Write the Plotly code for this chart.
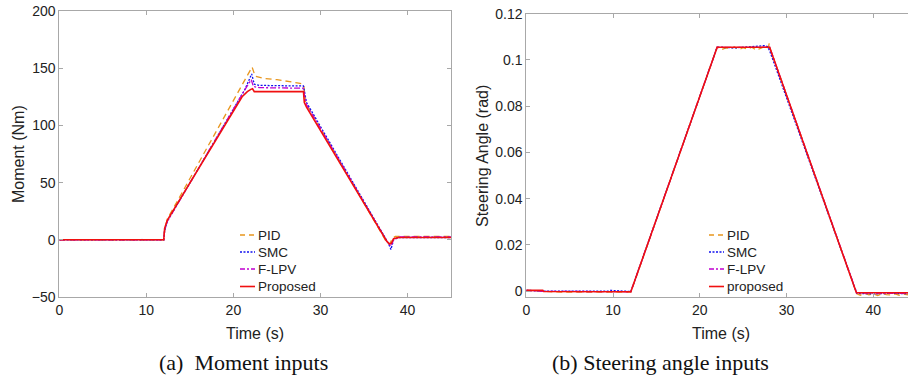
import plotly.graph_objects as go

# ---------------- data: (a) Moment inputs ----------------
t_pid = [0, 9.5, 12.0, 12.1, 12.4, 22.0, 22.15, 22.5, 23.5, 25.0, 26.5, 27.5, 28.0, 28.1, 28.3, 37.6, 37.95, 38.25, 38.6, 40.0, 45.0]
m_pid = [0, 0, 0, 8, 18, 149, 151, 143, 141, 140, 138.5, 137, 136, 134, 120, -2, -4, 1, 3, 3, 3]

t_smc = [0, 9.4, 9.5, 9.6, 12.0, 12.1, 12.4, 21.3, 22.1, 22.4, 23.0, 25.0, 27.0, 28.05, 28.15, 28.4, 37.8, 38.1, 38.4, 39.0, 45.0]
m_smc = [0, 0, 1, 0, 0, 8, 16, 131, 145, 136, 135, 134.5, 134.5, 134.5, 130, 120, -3, -8.5, 0, 2, 2]

t_flpv = [0, 12.0, 12.1, 12.4, 21.3, 22.05, 22.3, 23.0, 28.0, 28.1, 28.4, 37.7, 38.1, 38.4, 39.0, 45.0]
m_flpv = [0, 0, 8, 16, 131, 140, 134, 133, 132.5, 128, 118, -2, -5.5, 0, 2.5, 2.5]

t_prop = [0, 12.0, 12.1, 12.4, 21.0, 21.6, 22.0, 22.2, 22.4, 28.05, 28.15, 28.4, 37.6, 37.9, 38.15, 38.4, 39.0, 45.0]
m_prop = [0, 0, 10, 17, 125, 129.5, 131.5, 132, 129.5, 129.5, 120, 116, -1, -3.5, -3, 1, 2, 2]

# ---------------- data: (b) Steering angle inputs ----------------
ts_pid = [0, 2, 4, 6, 8, 10, 12.05, 22.0, 22.5, 23.0, 23.5, 24.0, 24.5, 25.0, 25.5, 26.0, 26.5, 27.0, 27.5, 27.9, 28.0, 28.05,
          38.1, 38.5, 39.0, 39.5, 40.0, 40.5, 41.0, 41.5, 42.0, 42.5, 43.0, 43.5, 44.0]
s_pid = [0.0003, -0.0002, -0.0005, -0.0004, -0.0005, -0.0003, -0.0005, 0.1055, 0.1045, 0.1052, 0.1048, 0.1056, 0.1044, 0.1053,
         0.1047, 0.1055, 0.1042, 0.1050, 0.1058, 0.1052, 0.1072, 0.1055,
         -0.0012, -0.0018, -0.0010, -0.0016, -0.0012, -0.0019, -0.0011, -0.0015, -0.0017, -0.0012, -0.0018, -0.0013, -0.0016]

ts_smc = [0, 2, 9.5, 9.7, 12.05, 22.0, 24.0, 26.0, 27.0, 27.5, 27.8, 28.05, 38.1, 40.0, 42.0, 44.0]
s_smc = [0.0003, 0.0, 0.0, 0.0003, -0.0002, 0.1055, 0.1052, 0.1056, 0.1060, 0.1062, 0.1058, 0.1040, -0.0010, -0.0012, -0.0010, -0.0011]

ts_flpv = [0, 2, 12.05, 22.0, 25.0, 28.05, 38.1, 41.0, 44.0]
s_flpv = [0.0003, -0.0001, -0.0003, 0.1055, 0.1054, 0.1055, -0.0009, -0.0011, -0.0010]

ts_prop = [0, 1.9, 2.0, 12.05, 22.0, 28.05, 38.05, 44.0]
s_prop = [0.0003, 0.0003, -0.0002, -0.0003, 0.1055, 0.1055, -0.0007, -0.0007]

names_a = ["PID", "SMC", "F-LPV", "Proposed"]
names_b = ["PID", "SMC", "F-LPV", "proposed"]
colors = ["#E8961E", "#1010F0", "#C000D0", "#F01010"]
dashes = ["6px,4px", "2px,1.5px", "6px,2px,2px,2px", "solid"]
leg_dashes = ["5px,4px", "2px,1.5px", "5px,2px,2px,2px", "solid"]
widths = [1.3, 1.3, 1.3, 1.6]

W, H = 908, 381
def px(x):
    return x / W
def py(y):
    return 1 - y / H

fig = go.Figure()
series_a = [(t_pid, m_pid), (t_smc, m_smc), (t_flpv, m_flpv), (t_prop, m_prop)]
series_b = [(ts_pid, s_pid), (ts_smc, s_smc), (ts_flpv, s_flpv), (ts_prop, s_prop)]
for i, (t, v) in enumerate(series_a):
    fig.add_trace(go.Scatter(x=t, y=v, mode="lines", name=names_a[i], xaxis="x", yaxis="y", showlegend=False,
                             line=dict(color=colors[i], dash=dashes[i], width=widths[i])))
for i, (t, v) in enumerate(series_b):
    fig.add_trace(go.Scatter(x=t, y=v, mode="lines", name=names_b[i], xaxis="x2", yaxis="y2", showlegend=False,
                             line=dict(color=colors[i], dash=dashes[i], width=widths[i])))

axcol = "#A8A8A8"
tickfont = dict(family="Liberation Sans, Arial", size=14, color="#222222")
common = dict(showgrid=False, zeroline=False, showline=True, linecolor=axcol, linewidth=1, automargin=False,
              ticks="inside", ticklen=4, tickcolor=axcol, tickfont=tickfont, ticklabeloverflow="allow")

fig.update_layout(
    width=W, height=H, margin=dict(l=0, r=0, t=0, b=0, autoexpand=False),
    paper_bgcolor="white", plot_bgcolor="white",
    showlegend=False,
    xaxis=dict(domain=[px(59.3), px(451)], range=[0, 45], tickvals=[0, 10, 20, 30, 40], anchor="y", mirror="ticks", **common),
    yaxis=dict(domain=[py(297), py(11)], range=[-50, 200], tickvals=[-50, 0, 50, 100, 150, 200], anchor="x", mirror="ticks", **common),
    xaxis2=dict(domain=[px(526.3), 1.0], range=[0, 44], tickvals=[0, 10, 20, 30, 40], anchor="y2", mirror="ticks", **common),
    yaxis2=dict(domain=[py(297.3), py(13.7)], range=[-0.0027, 0.12], tickvals=[0, 0.02, 0.04, 0.06, 0.08, 0.1, 0.12],
                anchor="x2", mirror=False, **common),
)

# custom legends (short sample lines + labels), positioned in paper coordinates
leg_font = dict(family="Liberation Sans, Arial", size=13.5, color="#222222")
leg_rows = [235, 252, 269, 286.5]
for (x0, names) in [(240, names_a), (709, names_b)]:
    for i, yy in enumerate(leg_rows):
        fig.add_shape(type="line", xref="paper", yref="paper", x0=px(x0), x1=px(x0 + 15), y0=py(yy), y1=py(yy),
                      line=dict(color=colors[i], dash=leg_dashes[i], width=widths[i]))
        fig.add_annotation(x=px(x0 + 16), y=py(yy), xref="paper", yref="paper", text=names[i], showarrow=False,
                           font=leg_font, xanchor="left", yanchor="middle")

ann_font = dict(family="Liberation Sans, Arial", size=16, color="#222222")
cap_font = dict(family="Liberation Serif, Times New Roman", size=22, color="#111111")
fig.add_annotation(x=px(254.5), y=py(333), xref="paper", yref="paper", text="Time (s)", showarrow=False, font=ann_font,
                   xanchor="center", yanchor="middle")
fig.add_annotation(x=px(721), y=py(333), xref="paper", yref="paper", text="Time (s)", showarrow=False, font=ann_font,
                   xanchor="center", yanchor="middle")
fig.add_annotation(x=px(18), y=py(154), xref="paper", yref="paper", text="Moment (Nm)", showarrow=False, font=ann_font,
                   textangle=-90, xanchor="center", yanchor="middle")
fig.add_annotation(x=px(483), y=py(156), xref="paper", yref="paper", text="Steering Angle (rad)", showarrow=False, font=ann_font,
                   textangle=-90, xanchor="center", yanchor="middle")
fig.add_annotation(x=px(244), y=py(362), xref="paper", yref="paper", text="(a)&nbsp;&nbsp;Moment inputs", showarrow=False,
                   font=cap_font, xanchor="center", yanchor="middle")
fig.add_annotation(x=px(660), y=py(362), xref="paper", yref="paper", text="(b) Steering angle inputs", showarrow=False,
                   font=cap_font, xanchor="center", yanchor="middle")

fig.write_html("out.html", config={"displayModeBar": False},
               post_script="document.body.style.margin='0';document.body.style.overflow='hidden';")
